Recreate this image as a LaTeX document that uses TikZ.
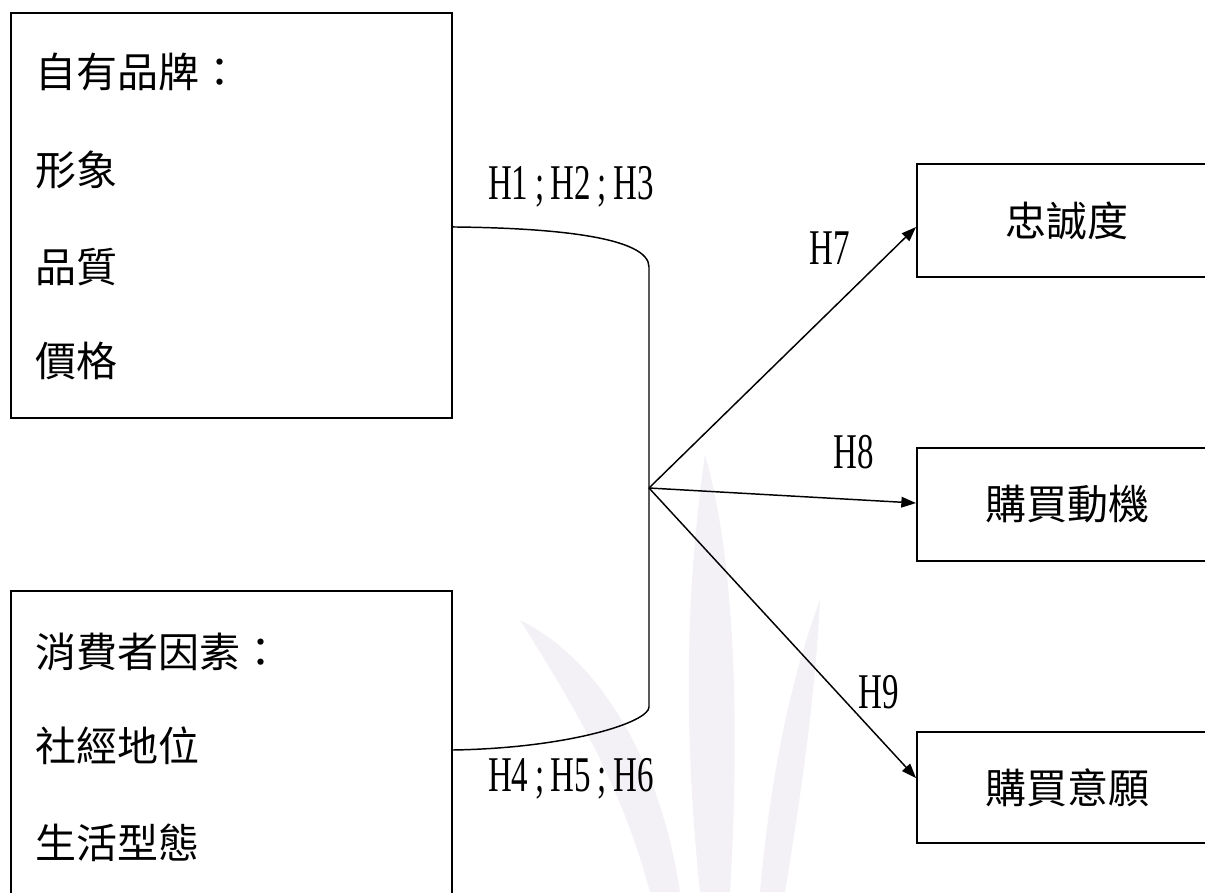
\documentclass[tikz,border=0pt]{standalone}
\usepackage{fontspec}
\setmainfont{Liberation Serif}
\newfontfamily\cjk{Noto Sans CJK TC}
\usetikzlibrary{arrows.meta,calc}
\definecolor{wm}{RGB}{243,241,245}
\newcommand\semi{\hspace{0.2em};\hspace{0.2em}}
\newcommand\hlabtext[1]{\scalebox{0.66}[1]{#1}}
\begin{document}
\begin{tikzpicture}[x=0.75pt,y=-0.75pt,
  box/.style={draw, line width=1.5pt, inner sep=0pt},
  cjktxt/.style={font=\cjk\fontsize{30.75}{36}\selectfont, inner sep=0pt},
  hlab/.style={font=\fontsize{37.5}{40}\selectfont, inner sep=0pt},
  conn/.style={line width=1.1pt},
  arr/.style={conn, -{Triangle[length=11pt,width=8pt]}},
  leaf/.style={fill=wm, draw=none}]
\clip (0,0) rectangle (1205,892);
\fill[white] (0,0) rectangle (1205,892);
% faint watermark
\fill[leaf] (700,892) .. controls (680,700) and (690,560) .. (705,455) .. controls (735,560) and (740,720) .. (730,892) -- cycle;
\fill[leaf] (650,892) .. controls (620,780) and (570,700) .. (520,620) .. controls (600,660) and (660,760) .. (680,892) -- cycle;
\fill[leaf] (760,892) .. controls (770,780) and (790,680) .. (820,600) .. controls (815,700) and (800,800) .. (785,892) -- cycle;
% boxes
\node[box, minimum width=330.75pt, minimum height=303.75pt] (brand) at (231.5,215.5) {};
\node[box, minimum width=330.75pt, minimum height=238.5pt] (consumer) at (231.5,750) {};
\node[box, minimum width=225pt, minimum height=84.75pt, cjktxt] (loyal) at (1067,220.5) {忠誠度};
\node[box, minimum width=225pt, minimum height=84.75pt, cjktxt] (motive) at (1067,504.5) {購買動機};
\node[box, minimum width=225pt, minimum height=83.25pt, cjktxt] (intent) at (1067,787.5) {購買意願};
% box texts
\node[cjktxt, anchor=west] (b1) at (35,72) {自有品牌：};
\node[cjktxt, anchor=west] (b2) at (35,170) {形象};
\node[cjktxt, anchor=west] (b3) at (35,267) {品質};
\node[cjktxt, anchor=west] (b4) at (35,361) {價格};
\node[cjktxt, anchor=west] (c1) at (35,652) {消費者因素：};
\node[cjktxt, anchor=west] (c2) at (35,746) {社經地位};
\node[cjktxt, anchor=west] (c3) at (35,843) {生活型態};
% hypothesis labels
\node[hlab] (h123) at (571,187) {\hlabtext{H1\semi H2\semi H3}};
\node[hlab] (h456) at (571,779) {\hlabtext{H4\semi H5\semi H6}};
\node[hlab] (h7) at (830,248) {\hlabtext{H7}};
\node[hlab] (h8) at (854,452) {\hlabtext{H8}};
\node[hlab] (h9) at (879,692) {\hlabtext{H9}};
% connectors
\coordinate (j) at (649,488);
\draw[conn] ([yshift=-8.6pt]brand.east) .. controls (560,228) and (649,238) .. (649,267)
  -- (649,707) .. controls (649,722) and (570,748) .. (consumer.east);
\draw[arr] (j) -- ([yshift=-4.9pt]loyal.west);
\draw[arr] (j) -- ([yshift=1.1pt]motive.west);
\draw[arr] (j) -- ([yshift=7.1pt]intent.west);
\end{tikzpicture}
\end{document}
